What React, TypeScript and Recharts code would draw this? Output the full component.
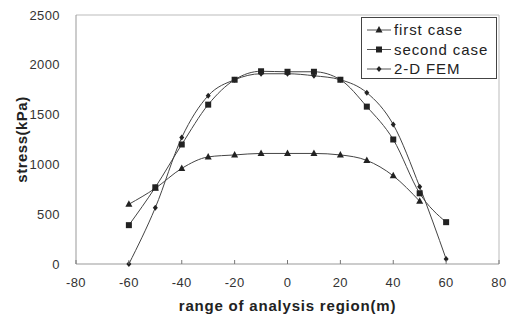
import { LineChart, Line, XAxis, YAxis, ReferenceLine } from 'recharts';

const xValues = [-60, -50, -40, -30, -20, -10, 0, 10, 20, 30, 40, 50, 60];
const firstCase = [600, 760, 960, 1075, 1095, 1110, 1110, 1110, 1095, 1040, 885, 630, null];
const secondCase = [390, 770, 1200, 1600, 1850, 1935, 1930, 1930, 1850, 1580, 1250, 710, 420];
const femCase = [0, 565, 1270, 1690, 1850, 1910, 1910, 1890, 1850, 1720, 1400, 775, 50];
const xTicks = [-80, -60, -40, -20, 0, 20, 40, 60, 80];
const yTicks = [0, 500, 1000, 1500, 2000, 2500];

const data = xValues.map((x, i) => ({
  x,
  first: firstCase[i],
  second: secondCase[i],
  fem: femCase[i],
}));

const font = '"Liberation Sans", Arial, sans-serif';
const ink = '#222';

const Triangle = ({ cx, cy }: any) => (
  <polygon points={`${cx},${cy - 4} ${cx + 3.5},${cy + 2.5} ${cx - 3.5},${cy + 2.5}`} fill={ink} />
);
const Square = ({ cx, cy }: any) => <rect x={cx - 3} y={cy - 3} width={6} height={6} fill={ink} />;
const Diamond = ({ cx, cy }: any) => (
  <polygon points={`${cx},${cy - 3} ${cx + 2.5},${cy} ${cx},${cy + 3} ${cx - 2.5},${cy}`} fill={ink} />
);

const XTick = ({ x, y, payload }: any) => (
  <g>
    <line x1={x} x2={x} y1={y} y2={y - 4} stroke="#777" />
    <text x={x} y={y + 23} textAnchor="middle" fontSize={13} fill="#333" fontFamily={font} letterSpacing={0.4}>
      {payload.value}
    </text>
  </g>
);

const LegendBox = () => {
  const rows = [
    { name: 'first case', M: Triangle },
    { name: 'second case', M: Square },
    { name: '2-D FEM', M: Diamond },
  ];
  return (
    <svg width={137} height={63} style={{ display: 'block' }}>
      <rect x={0.5} y={0.5} width={135} height={61} fill="#fff" stroke="#444" />
      {rows.map((r, i) => {
        const cy = 13 + i * 19.5;
        return (
          <g key={r.name}>
            <line x1={6} x2={30} y1={cy} y2={cy} stroke="#555" />
            <r.M cx={18} cy={cy} />
            <text x={33} y={cy + 5} fontSize={15} fill="#222" fontFamily={font} letterSpacing={0.9}>
              {r.name}
            </text>
          </g>
        );
      })}
    </svg>
  );
};

export default function App() {
  return (
    <div style={{ position: 'absolute', left: 0, top: 0, background: '#fff' }}>
      <LineChart width={512} height={315} data={data} margin={{ top: 15, right: 13, bottom: 0, left: 0 }}>
        <XAxis
          dataKey="x"
          type="number"
          domain={[-80, 80]}
          ticks={xTicks}
          stroke="#999"
          tickLine={false}
          tickSize={0}
          tickMargin={0}
          tick={<XTick />}
          height={51}
          label={{ value: 'range of analysis region(m)', position: 'insideBottom', offset: 4, style: { fontSize: 15, fontWeight: 600, fill: '#222', fontFamily: font, letterSpacing: 0.8 } }}
        />
        <YAxis
          type="number"
          domain={[0, 2500]}
          ticks={yTicks}
          width={76}
          stroke="#999"
          tickLine={false}
          tickMargin={10}
          tick={{ fontSize: 13, fill: '#333', fontFamily: font, letterSpacing: 0.4 }}
          label={{ value: 'stress(kPa)', angle: -90, position: 'insideLeft', offset: 22, style: { fontSize: 15, fontWeight: 600, fill: '#222', fontFamily: font, textAnchor: 'middle', letterSpacing: 0.5 } }}
        />
        <ReferenceLine y={2500} stroke="#bbb" ifOverflow="visible" />
        <ReferenceLine x={80} stroke="#bbb" ifOverflow="visible" />
        <Line type="monotone" dataKey="first" stroke="#444" strokeWidth={1} dot={<Triangle />} isAnimationActive={false} connectNulls />
        <Line type="monotone" dataKey="second" stroke="#444" strokeWidth={1} dot={<Square />} isAnimationActive={false} />
        <Line type="monotone" dataKey="fem" stroke="#444" strokeWidth={1} dot={<Diamond />} isAnimationActive={false} />
      </LineChart>
      <div style={{ position: 'absolute', left: 361, top: 17 }}>
        <LegendBox />
      </div>
    </div>
  );
}
